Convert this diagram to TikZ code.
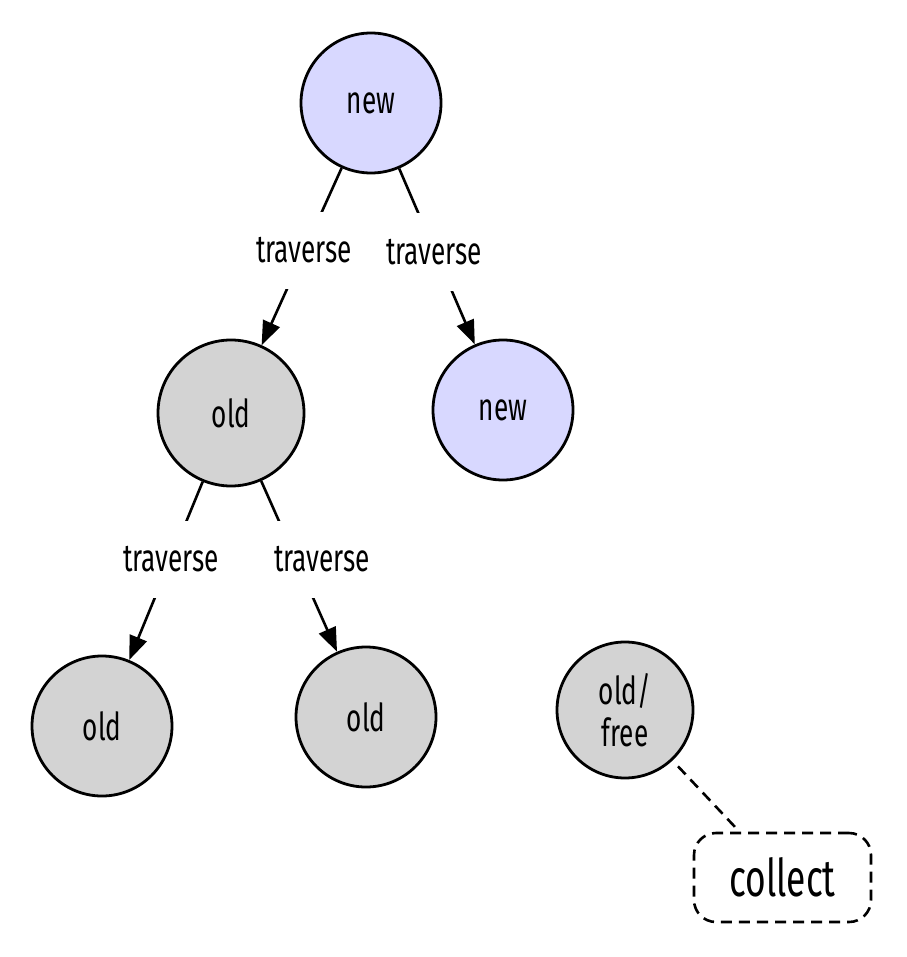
\documentclass[tikz,border=0pt]{standalone}
\usepackage{fontspec}
\setmainfont[FakeStretch=0.68]{Fira Sans}
\usetikzlibrary{arrows.meta}
\definecolor{newfill}{HTML}{D8D8FF}
\definecolor{oldfill}{HTML}{D3D3D3}
\begin{document}
\begin{tikzpicture}[x=1pt,y=-1pt,
  nd/.style={circle,draw=black,line width=2.8pt,minimum size=140pt,inner sep=0pt,font=\fontsize{38.5}{42}\selectfont,align=center},
  newnd/.style={nd,fill=newfill},
  oldnd/.style={nd,fill=oldfill},
  lbl/.style={fill=white,inner xsep=2pt,minimum height=77pt,font=\fontsize{38.5}{42}\selectfont},
  edge/.style={draw=black,line width=2.6pt,-{Triangle[length=24pt,width=18pt]}},
  sidebox/.style={draw=black,line width=2.6pt,dash pattern=on 11pt off 7pt,rounded corners=22pt,minimum width=177pt,minimum height=89pt,font=\fontsize{52}{56}\selectfont}
]
\useasboundingbox (0,0) rectangle (906,957);
\node[newnd] (root) at (371,103) {new};
\node[oldnd,minimum size=146pt] (old) at (231,413) {old};
\node[newnd] (newr) at (503,410) {new};
\node[oldnd] (oldl) at (102,726) {old};
\node[oldnd] (oldm) at (366,717) {old};
\node[oldnd,minimum size=136pt] (free) at (625,710) {old/\\free};
\node[sidebox] (collect) at (782.5,877.5) {collect};

\draw[edge] (root) -- (old);
\draw[edge] (root) -- (newr);
\draw[edge] (old) -- (oldl);
\draw[edge] (old) -- (oldm);
\draw[line width=2.6pt,dash pattern=on 11pt off 7pt,shorten <=8pt] (free) -- (collect);

\node[lbl] (l1) at (304,250.5) {traverse};
\node[lbl] (l2) at (434,252) {traverse};
\node[lbl] (l3) at (171,559) {traverse};
\node[lbl] (l4) at (322,559.5) {traverse};
\end{tikzpicture}
\end{document}
